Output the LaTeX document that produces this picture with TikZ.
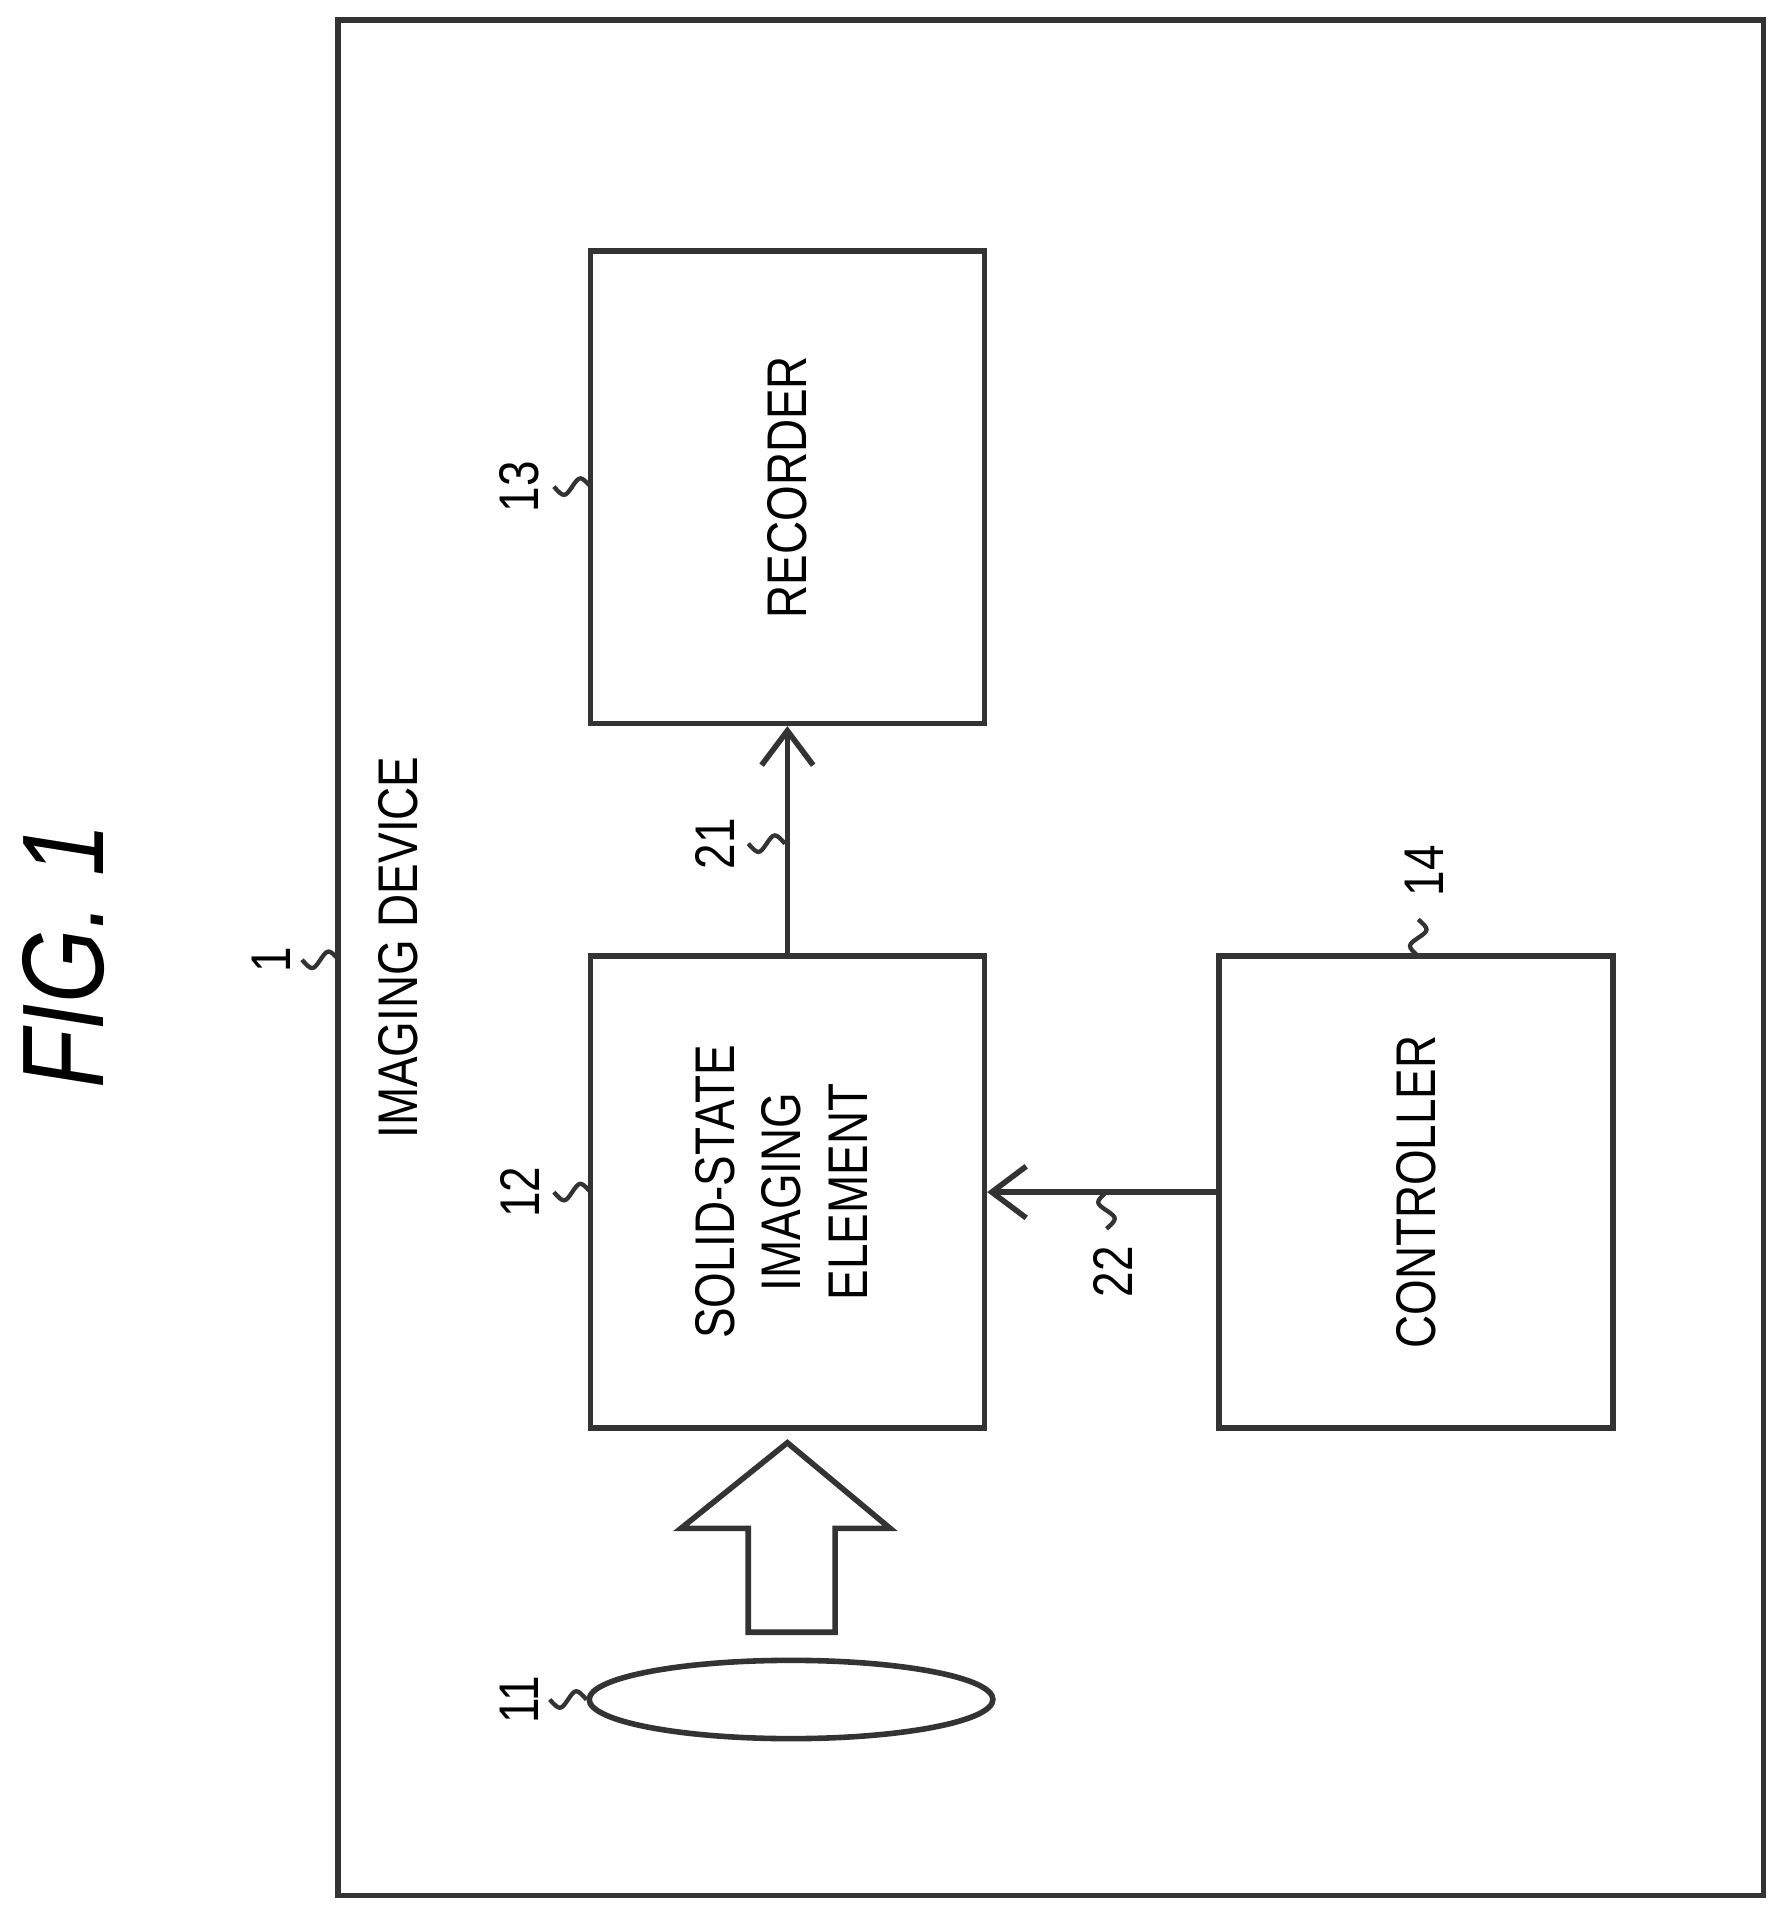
\documentclass[tikz,border=0pt]{standalone}
\usepackage{fontspec}
\setmainfont{Liberation Sans}
\usetikzlibrary{shapes.geometric,arrows.meta}

\newcommand{\nar}[1]{\scalebox{0.82}[1]{#1}}
% tilde from a point, going left (h) or down (v)
\newcommand{\tldh}[1]{\draw[sq] (#1) .. controls +(-8,-9) and +(6,-9) .. ++(-15,0) .. controls +(-6,9) and +(8,9) .. ++(-15,0);}
\newcommand{\tldv}[2]{\draw[sq] (#1) .. controls +(-9,#2*8) and +(-9,-#2*6) .. ++(0,#2*15) .. controls +(9,#2*6) and +(9,-#2*8) .. ++(0,#2*15);}

\tikzset{
  blk/.style={draw=black!80, line width=1.3pt, minimum width=3.22cm, minimum height=3.86cm, inner sep=0pt, font=\fontsize{13}{15.5}\selectfont},
  sig/.style={draw=black!80, line width=1.3pt, ->, >={Straight Barb[length=8pt,width=12pt]}},
  sq/.style={draw=black!80, line width=1pt},
  num/.style={font=\fontsize{13}{15}\selectfont, rotate=90}
}

\begin{document}
\begin{tikzpicture}[x=0.01cm, y=-0.01cm]
\useasboundingbox (0,0) rectangle (1462,1572);

% frame
\node[draw=black!80, line width=1.3pt, minimum width=11.65cm, minimum height=15.33cm, inner sep=0pt] (dev) at (859.5,783.5) {};
\node[num] (devtxt) at (326,775) {\nar{IMAGING DEVICE}};
\node[rotate=90, font=\fontsize{27}{30}\selectfont\itshape] (fig) at (52,782) {\nar{FIG. 1}};

% blocks
\node[blk] (rec) at (644,398.5) {\rotatebox{90}{\nar{RECORDER}}};
\node[blk] (sens) at (644,975) {\rotatebox{90}{\nar{\begin{tabular}{c}SOLID-STATE\\IMAGING\\ELEMENT\end{tabular}}}};
\node[blk] (ctrl) at (1158,975) {\rotatebox{90}{\nar{CONTROLLER}}};
\node[draw=black!80, line width=1.3pt, ellipse, minimum width=3.3cm, minimum height=0.64cm, inner sep=0pt] (lens) at (647,1390) {};

% light
\draw[draw=black!80, line width=1.3pt] (612,1335) -- (612,1250) -- (557,1250) -- (644,1180) -- (728,1250) -- (683,1250) -- (683,1335) -- cycle;

% signals
\draw[sig] (sens.north) -- (rec.south);
\coordinate (c22) at (ctrl.west);
\draw[sig] (c22) -- (sens.east);

% reference numerals
\coordinate (t1) at (277,785);
\tldh{t1}
\node[num] (n1) at (222,785) {\nar{1}};
\coordinate (t13) at (483,398);
\tldh{t13}
\node[num] (n13) at (425,398) {\nar{13}};
\coordinate (t12) at (483,975);
\tldh{t12}
\node[num] (n12) at (425,975) {\nar{12}};
\tldh{lens.west}
\node[num] (n11) at (425,1390) {\nar{11}};
\coordinate (t21) at (642,690);
\tldh{t21}
\node[num] (n21) at (585,690) {\nar{21}};
\coordinate (t22) at (905,975);
\tldv{t22}{1}
\node[num] (n22) at (910,1040) {\nar{22}};
\coordinate (t14) at (1160,782);
\tldv{t14}{-1}
\node[num] (n14) at (1165,712) {\nar{14}};
\end{tikzpicture}
\end{document}
